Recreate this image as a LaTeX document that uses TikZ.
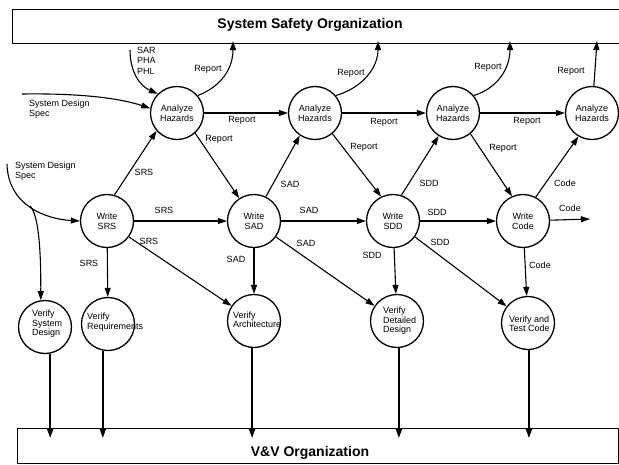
\documentclass[tikz,border=0pt]{standalone}
\usepackage{fontspec}
\setmainfont{Liberation Sans}
\usetikzlibrary{arrows.meta}
\begin{document}
\begin{tikzpicture}[x=1pt,y=-1pt,
  font=\fontsize{9}{10}\selectfont,
  proc/.style={circle,draw,line width=1.3pt,minimum size=53pt,inner sep=0pt,align=center},
  arr/.style={line width=1.1pt,-{Triangle[length=9pt,width=6pt]}},
  varr/.style={line width=1.5pt,-{Triangle[length=9pt,width=6pt]}},
  lbl/.style={inner sep=0pt},
  vtxt/.style={inner sep=0pt,align=left,anchor=west,font=\fontsize{9}{9.5}\selectfont},
  org/.style={draw,line width=1.1pt,inner sep=0pt,anchor=north west},
  title/.style={inner sep=0pt,font=\fontsize{14}{16}\selectfont\bfseries}]
\useasboundingbox (0,0) rectangle (619,464);
\clip (0,0) rectangle (619,464);

% organisations
\node[org,minimum width=612pt,minimum height=34pt] (safety) at (12,9) {};
\node[title] (safetytitle) at (310,25) {System Safety Organization};
\node[org,minimum width=601pt,minimum height=35pt] (vv) at (17,428) {};
\node[title] (vvtitle) at (310,453) {V\&V Organization};

% processes
\node[proc] (AH1) at (177,113) {Analyze\\Hazards};
\node[proc] (AH2) at (315,113) {Analyze\\Hazards};
\node[proc] (AH3) at (453,113) {Analyze\\Hazards};
\node[proc] (AH4) at (592,113) {Analyze\\Hazards};

\node[proc] (WSRS) at (107,221) {Write\\SRS};
\node[proc] (WSAD) at (254,221) {Write\\SAD};
\node[proc] (WSDD) at (393,221) {Write\\SDD};
\node[proc] (WCode) at (523,221) {Write\\Code};

\node[proc] (VSD) at (45,327) {};
\node[proc] (VReq) at (108,324) {};
\node[proc] (VArch) at (254,321) {};
\node[proc] (VDD) at (397,321) {};
\node[proc] (VTC) at (528,323) {};
\node[vtxt] (VSDt) at (32,324) {Verify\\System\\Design};
\node[vtxt] (VReqt) at (87,322) {Verify\\Requirements};
\node[vtxt] (VArcht) at (233,320) {Verify\\Architecture};
\node[vtxt] (VDDt) at (383,321) {Verify\\Detailed\\Design};
\node[vtxt] (VTCt) at (509,324) {Verify and\\Test Code};

% free ends
\coordinate (sarstart) at (130,50);
\coordinate (sds1) at (22,94);
\coordinate (sds2) at (7,164);
\coordinate (sdsbranch) at (30,206);
\coordinate (up1) at (233,41);
\coordinate (up2) at (378,41);
\coordinate (up3) at (510,41);
\coordinate (up4) at (597,41);
\coordinate (codeout) at (590,219);
\coordinate (vvtip) at (0,438);

% inputs
\draw[arr] (sarstart) .. controls (130,72) and (140,86) .. (AH1.135);
\draw[arr] (sds1) .. controls (90,93) and (125,100) .. (AH1.170);
\draw[arr] (sds2) .. controls (8,205) and (45,219) .. (WSRS.west);
\draw[arr] (sdsbranch) .. controls (38,214) and (41,245) .. (VSD.99);

% reports to safety organisation
\draw[arr] (AH1.40) .. controls (222,86) and (233,68) .. (up1);
\draw[arr] (AH2.40) .. controls (362,88) and (378,68) .. (up2);
\draw[arr] (AH3.40) .. controls (498,88) and (510,68) .. (up3);
\draw[arr] (AH4.86) -- (up4);

% hazard chain
\draw[arr] (AH1) -- (AH2);
\draw[arr] (AH2) -- (AH3);
\draw[arr] (AH3) -- (AH4);
\draw[arr] (AH1.312) -- (WSAD.123);
\draw[arr] (AH2.310) -- (WSDD.116);
\draw[arr] (AH3.310) -- (WCode.114);

% write -> analyze
\draw[arr] (WSRS.74) -- (AH1.221);
\draw[arr] (WSAD.64) -- (AH2.236);
\draw[arr] (WSDD.72) -- (AH3.238);
\draw[arr] (WCode.62) -- (AH4.240);

% write chain
\draw[arr] (WSRS) -- (WSAD);
\draw[arr] (WSAD) -- (WSDD);
\draw[arr] (WSDD) -- (WCode);
\draw[arr] (WCode) -- (codeout);

% write -> verify
\draw[arr] (WSRS.324) -- (VArch.146);
\draw[arr] (WSAD.324) -- (VDD.146);
\draw[arr] (WSDD.324) -- (VTC.142);
\draw[arr] (WSRS) -- (VReq);
\draw[arr] (WSAD) -- (VArch);
\draw[arr] (WSDD) -- (VDD);
\draw[arr] (WCode) -- (VTC);

% verify -> V&V
\draw[varr] (VSD.281) -- (VSD.281 |- vvtip);
\draw[varr] (VReq.259) -- (VReq.259 |- vvtip);
\draw[varr] (VArch.266) -- (VArch.266 |- vvtip);
\draw[varr] (VDD.274) -- (VDD.274 |- vvtip);
\draw[varr] (VTC.272) -- (VTC.272 |- vvtip);

% labels
\node[lbl,align=left,anchor=north west,font=\fontsize{9}{10.5}\selectfont] (sarlbl) at (137,47) {SAR\\PHA\\PHL};
\node[lbl,align=left,anchor=north west] (sds1lbl) at (29,100) {System Design\\Spec};
\node[lbl,align=left,anchor=north west] (sds2lbl) at (15,162) {System Design\\Spec};

\node[lbl] (ru1) at (208,69) {Report};
\node[lbl] (ru2) at (351,73) {Report};
\node[lbl] (ru3) at (488,67) {Report};
\node[lbl] (ru4) at (571,71) {Report};
\node[lbl] (rh1) at (242,120) {Report};
\node[lbl] (rh2) at (384,122) {Report};
\node[lbl] (rh3) at (527,121) {Report};
\node[lbl] (rd1) at (219,139) {Report};
\node[lbl] (rd2) at (364,147) {Report};
\node[lbl] (rd3) at (503,148) {Report};

\node[lbl] (srsup) at (144,172) {SRS};
\node[lbl] (sadup) at (290,184) {SAD};
\node[lbl] (sddup) at (429,183) {SDD};
\node[lbl] (codeup) at (565,183) {Code};

\node[lbl] (srsh) at (164,210) {SRS};
\node[lbl] (sadh) at (309,210) {SAD};
\node[lbl] (sddh) at (437,212) {SDD};
\node[lbl] (codeh) at (570,208) {Code};

\node[lbl] (srsd) at (149,241) {SRS};
\node[lbl] (sadd) at (306,243) {SAD};
\node[lbl] (sddd) at (440,242) {SDD};

\node[lbl] (srsv) at (89,263) {SRS};
\node[lbl] (sadv) at (236,259) {SAD};
\node[lbl] (sddv) at (372,255) {SDD};
\node[lbl] (codev) at (540,265) {Code};
\end{tikzpicture}
\end{document}
